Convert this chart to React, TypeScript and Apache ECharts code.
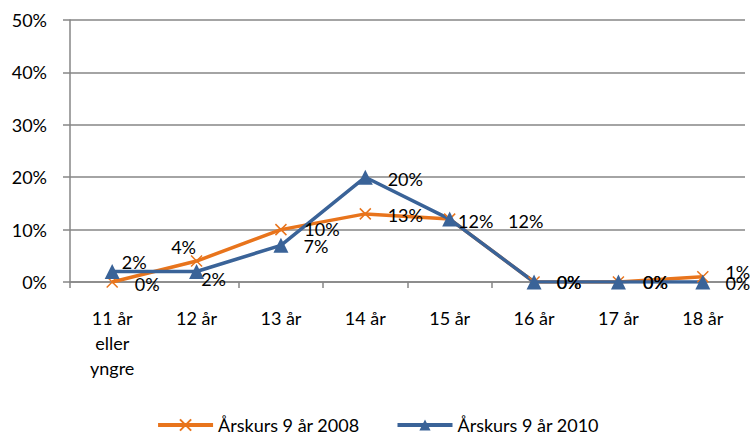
import React, { useEffect, useRef } from "react";
import * as echarts from "echarts";

const categories = ["11 år\neller\nyngre", "12 år", "13 år", "14 år", "15 år", "16 år", "17 år", "18 år"];
const series2008 = [0, 4, 10, 13, 12, 0, 0, 1];
const series2010 = [2, 2, 7, 20, 12, 0, 0, 0];
const seriesNames = ["Årskurs 9 år 2008", "Årskurs 9 år 2010"];
// label offsets (center relative to point), px
const offsets2008: [number, number][] = [[35, 2], [-13, -14], [41, -1], [40, 1], [76, 2], [35, 0], [37, 0], [35, -5]];
const offsets2010: [number, number][] = [[22, -10], [17, 7], [35, 1], [40, 2], [26, 2], [35, 0], [37, 0], [35, 1]];

const ORANGE = "#E8741C";
const BLUE = "#3A6398";
const FONT = "Lato, 'Open Sans', sans-serif";
const FS = 18;

function withLabels(vals: number[], offs: [number, number][]) {
  return vals.map((v, i) => ({
    value: v,
    label: { show: true, position: "inside", align: "center", verticalAlign: "middle", offset: offs[i] },
  }));
}

export default function App() {
  const ref = useRef<HTMLDivElement>(null);
  useEffect(() => {
    if (!ref.current) return;
    const chart = echarts.init(ref.current, null, { renderer: "svg" });
    chart.setOption({
      animation: false,
      backgroundColor: "#fff",
      grid: { left: 70, right: 10, top: 20, bottom: 159, containLabel: false },
      legend: {
        top: 416,
        left: "center",
        padding: 0,
        itemWidth: 55,
        itemHeight: 14,
        itemGap: 36,
        lineStyle: { width: 4 },
        textStyle: { fontFamily: FONT, fontSize: FS, color: "#000" },
        data: seriesNames,
      },
      xAxis: {
        type: "category",
        data: categories,
        boundaryGap: true,
        axisLine: { lineStyle: { color: "#868686", width: 1.5 } },
        axisTick: { show: true, interval: 0, length: 6, lineStyle: { color: "#868686", width: 1.5 } },
        axisLabel: { interval: 0, fontFamily: FONT, fontSize: FS, color: "#000", lineHeight: 25, margin: 23 },
      },
      yAxis: {
        type: "value",
        min: 0,
        max: 50,
        interval: 10,
        axisLine: { show: true, lineStyle: { color: "#868686", width: 1.5 } },
        axisTick: { show: true, length: 7, lineStyle: { color: "#868686", width: 1.5 } },
        splitLine: { lineStyle: { color: "#868686", width: 1.5 } },
        axisLabel: { formatter: "{value}%", fontFamily: FONT, fontSize: FS, color: "#000", margin: 23 },
      },
      series: [
        {
          name: seriesNames[0],
          type: "line",
          data: withLabels(series2008, offsets2008),
          symbol: "path://M0,0L10,10M10,0L0,10",
          symbolSize: 11,
          showAllSymbol: true,
          lineStyle: { color: ORANGE, width: 3.5 },
          itemStyle: { color: ORANGE, borderColor: ORANGE, borderWidth: 1.5 },
          label: { fontFamily: FONT, fontSize: FS, color: "#000", formatter: "{c}%" },
        },
        {
          name: seriesNames[1],
          type: "line",
          data: withLabels(series2010, offsets2010),
          symbol: "triangle",
          symbolSize: 15,
          showAllSymbol: true,
          lineStyle: { color: BLUE, width: 3.5 },
          itemStyle: { color: BLUE },
          label: { fontFamily: FONT, fontSize: FS, color: "#000", formatter: "{c}%" },
        },
      ],
    });
    return () => chart.dispose();
  }, []);
  return <div ref={ref} style={{ width: 755, height: 441, position: "absolute", left: 0, top: 0 }} />;
}
